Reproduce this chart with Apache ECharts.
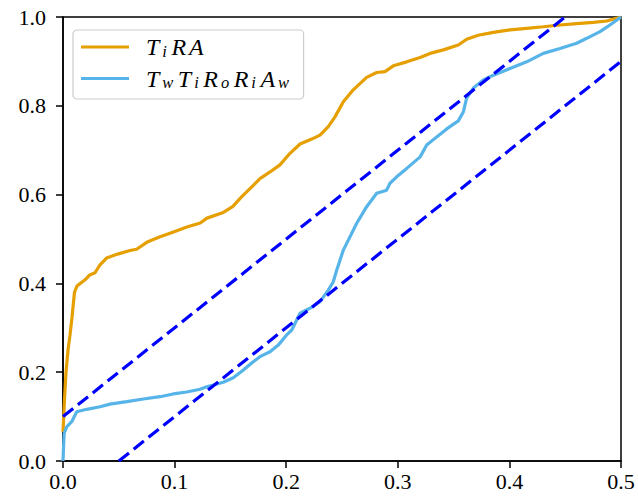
<!DOCTYPE html>
<html>
<head>
<meta charset="utf-8">
<script src="https://cdn.jsdelivr.net/npm/echarts@6/dist/echarts.min.js"></script>
<style>html,body{margin:0;padding:0;background:#fff;}#c{width:638px;height:500px;}</style>
</head>
<body>
<div id="c"></div>
<script>
// ---- data ----
const seriesNames = ['T_iRA', 'T_wT_iR_oR_iA_w'];
const tiraX = [0, 0.0013, 0.0027, 0.0045, 0.0063, 0.008, 0.0103, 0.0125, 0.016, 0.0206, 0.024, 0.0287, 0.033, 0.039, 0.049, 0.060, 0.066, 0.076, 0.087, 0.099, 0.111, 0.123, 0.129, 0.143, 0.152, 0.160, 0.171, 0.1765, 0.1855, 0.1944, 0.2034, 0.2124, 0.2229, 0.2303, 0.2377, 0.2437, 0.2512, 0.2601, 0.2721, 0.2811, 0.2885, 0.296, 0.308, 0.320, 0.3289, 0.3408, 0.3542, 0.3617, 0.3721, 0.3856, 0.4005, 0.4155, 0.4304, 0.4453, 0.4603, 0.4752, 0.4872, 0.5];
const tiraY = [0.065, 0.137, 0.20, 0.25, 0.284, 0.322, 0.38, 0.394, 0.401, 0.41, 0.419, 0.424, 0.441, 0.457, 0.466, 0.474, 0.477, 0.494, 0.505, 0.516, 0.527, 0.536, 0.547, 0.559, 0.573, 0.595, 0.622, 0.636, 0.651, 0.667, 0.693, 0.714, 0.725, 0.734, 0.753, 0.775, 0.809, 0.836, 0.864, 0.875, 0.877, 0.890, 0.899, 0.909, 0.918, 0.926, 0.937, 0.950, 0.959, 0.9655, 0.971, 0.9745, 0.978, 0.982, 0.985, 0.988, 0.991, 1.0];
const twX = [0, 0.001, 0.0033, 0.0078, 0.0123, 0.0212, 0.0332, 0.0421, 0.0571, 0.072, 0.0869, 0.0988, 0.1108, 0.1228, 0.1288, 0.1347, 0.1436, 0.1526, 0.1616, 0.1705, 0.1765, 0.1855, 0.1929, 0.2004, 0.205, 0.2124, 0.2213, 0.2303, 0.2377, 0.2422, 0.2453, 0.2512, 0.2632, 0.2721, 0.2811, 0.290, 0.293, 0.299, 0.308, 0.320, 0.3259, 0.3349, 0.3438, 0.3542, 0.3587, 0.3617, 0.3677, 0.3766, 0.3856, 0.4005, 0.4155, 0.4304, 0.4453, 0.4603, 0.4693, 0.4812, 0.4901, 0.5];
const twY = [0, 0.062, 0.077, 0.0885, 0.111, 0.1164, 0.1223, 0.128, 0.1336, 0.1396, 0.1448, 0.151, 0.1554, 0.1615, 0.1673, 0.171, 0.1773, 0.1876, 0.205, 0.2236, 0.235, 0.246, 0.261, 0.284, 0.295, 0.3327, 0.344, 0.3588, 0.385, 0.4038, 0.430, 0.475, 0.5354, 0.5728, 0.603, 0.610, 0.6255, 0.640, 0.659, 0.685, 0.7117, 0.730, 0.748, 0.766, 0.786, 0.8176, 0.840, 0.858, 0.869, 0.884, 0.899, 0.918, 0.929, 0.941, 0.952, 0.967, 0.982, 1.0];
// reference lines y = 2x + 0.1 and y = 2x - 0.1 (endpoints)
const refUpperX = [0, 0.45];
const refUpperY = [0.1, 1.0];
const refLowerX = [0.05, 0.5];
const refLowerY = [0, 0.9];
const xTicks = [0, 0.1, 0.2, 0.3, 0.4, 0.5];
const yTicks = [0, 0.2, 0.4, 0.6, 0.8, 1.0];

function pairs(xs, ys) { return xs.map((x, i) => [x, ys[i]]); }
function legendRich(name) {
  let out = '';
  let first = true;
  for (let i = 0; i < name.length; i++) {
    const ch = name[i];
    if (ch === '_') { out += '{s|' + name[i + 1] + '}'; i++; }
    else { out += (first ? '{f|' + ch + '}' : '{m|' + ch + '}'); first = false; }
  }
  return out;
}

const serif = '"Liberation Serif", serif';
const option = {
  animation: false,
  backgroundColor: '#ffffff',
  grid: { left: 63, right: 17, top: 17, bottom: 39, show: true, borderColor: '#000', borderWidth: 1.5 },
  xAxis: {
    type: 'value', min: 0, max: 0.5, interval: 0.1,
    axisLine: { show: true, lineStyle: { color: '#000', width: 1.5 } },
    axisTick: { show: true, length: 7, lineStyle: { color: '#000', width: 1.5 } },
    axisLabel: { margin: 9, color: '#000', fontFamily: serif, fontSize: 22, formatter: v => v.toFixed(1) },
    splitLine: { show: false }
  },
  yAxis: {
    type: 'value', min: 0, max: 1, interval: 0.2,
    axisLine: { show: true, lineStyle: { color: '#000', width: 1.5 } },
    axisTick: { show: true, length: 7, lineStyle: { color: '#000', width: 1.5 } },
    axisLabel: { margin: 17, color: '#000', fontFamily: serif, fontSize: 22, formatter: v => v.toFixed(1) },
    splitLine: { show: false }
  },
  legend: {
    data: seriesNames,
    orient: 'vertical', left: 73, top: 30,
    padding: [5, 10, 8, 8],
    icon: 'rect',
    itemWidth: 48, itemHeight: 3, itemGap: 7,
    backgroundColor: '#ffffff', borderColor: '#cccccc', borderWidth: 1.2, borderRadius: 4,
    formatter: legendRich,
    textStyle: {
      fontFamily: serif,
      rich: {
        f: { fontFamily: serif, fontStyle: 'italic', fontSize: 24, lineHeight: 25, color: '#000', padding: [0, 3, 0, 12] },
        m: { fontFamily: serif, fontStyle: 'italic', fontSize: 24, lineHeight: 25, color: '#000', padding: [0, 3, 0, 0] },
        s: { fontFamily: serif, fontStyle: 'italic', fontSize: 16.5, lineHeight: 13, verticalAlign: 'bottom', color: '#000', padding: [0, 4.5, 0, 0] }
      }
    }
  },
  series: [
    { name: seriesNames[0], type: 'line', data: pairs(tiraX, tiraY), showSymbol: false, symbol: 'none', lineStyle: { color: '#E69F00', width: 3.2 }, itemStyle: { color: '#E69F00' }, z: 2 },
    { name: seriesNames[1], type: 'line', data: pairs(twX, twY), showSymbol: false, symbol: 'none', lineStyle: { color: '#56B4E9', width: 3.2 }, itemStyle: { color: '#56B4E9' }, z: 3 },
    { name: 'upper', type: 'line', data: pairs(refUpperX, refUpperY), showSymbol: false, symbol: 'none', lineStyle: { color: '#0000FF', width: 3.2, type: [13, 6], cap: 'butt' }, z: 4 },
    { name: 'lower', type: 'line', data: pairs(refLowerX, refLowerY), showSymbol: false, symbol: 'none', lineStyle: { color: '#0000FF', width: 3.2, type: [13, 6], cap: 'butt' }, z: 4 }
  ]
};
const chart = echarts.init(document.getElementById('c'), null, { renderer: 'svg' });
chart.setOption(option);
// redraw once the serif faces are surely loaded
if (document.fonts && document.fonts.load) {
  Promise.all([
    document.fonts.load('22px "Liberation Serif"'),
    document.fonts.load('italic 24px "Liberation Serif"')
  ]).then(() => { chart.clear(); chart.setOption(option); }).catch(() => {});
}
</script>
</body>
</html>
